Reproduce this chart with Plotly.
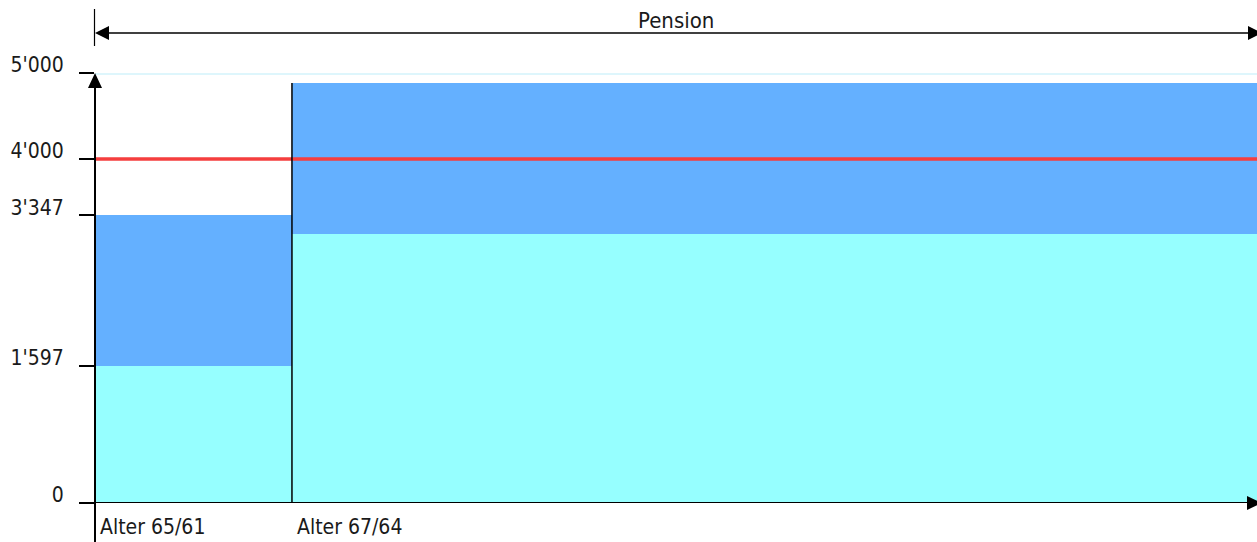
import plotly.graph_objects as go

# ---- data ----
segments = ["Alter 65/61", "Alter 67/64"]
seg_start = [0, 16.95]          # timeline position (% of pension period)
seg_end = [16.95, 100]
base_values = [1597, 3128]      # cyan (lower) part
top_values = [1750, 1756]       # blue (upper) part
threshold = 4000
y_max = 5000
tick_vals = [0, 1597, 3347, 4000, 5000]
tick_text = ["0", "1'597", "3'347", "4'000", "5'000"]
period_label = "Pension"

CYAN = "rgb(150,255,255)"
BLUE = "rgb(100,176,255)"
FONT = "DejaVu Sans Condensed, DejaVu Sans, sans-serif"

W, H = 1257, 542
ML, MR, MT, MB = 95, 0, 73, 39
PW, PH = W - ML - MR, H - MT - MB


def px(xp):
    return (xp - ML) / PW


def py(yp):
    return (H - MB - yp) / PH


mids = [(a + b) / 2 for a, b in zip(seg_start, seg_end)]
widths = [b - a for a, b in zip(seg_start, seg_end)]

fig = go.Figure()
fig.add_trace(go.Bar(x=mids, y=base_values, width=widths, marker=dict(color=CYAN, line=dict(width=0)),
                     hoverinfo="skip", showlegend=False))
fig.add_trace(go.Bar(x=mids, y=top_values, width=widths, marker=dict(color=BLUE, line=dict(width=0)),
                     hoverinfo="skip", showlegend=False))

shapes = []
# light line at top value
shapes.append(dict(type="line", xref="paper", yref="y", x0=0, x1=1, y0=y_max, y1=y_max,
                   line=dict(color="rgb(222,246,252)", width=4), layer="below"))
# threshold red line
shapes.append(dict(type="line", xref="paper", yref="y", x0=0, x1=1, y0=threshold, y1=threshold,
                   line=dict(color="rgb(245,62,62)", width=3.5)))
# separator vertical line at 2nd segment start (from bar top downward)
shapes.append(dict(type="line", xref="x", yref="y", x0=seg_start[1], x1=seg_start[1],
                   y0=base_values[1] + top_values[1], y1=-460,
                   line=dict(color="black", width=1.5)))
# y axis line
shapes.append(dict(type="line", xref="paper", yref="paper", x0=0, x1=0, y0=py(H + 5), y1=py(80),
                   line=dict(color="black", width=2)))
# x axis line
shapes.append(dict(type="line", xref="paper", yref="y", x0=px(80), x1=px(1250), y0=0, y1=0,
                   line=dict(color="black", width=2)))
# y axis arrowhead (up)
shapes.append(dict(type="path", xref="paper", yref="paper",
                   path=f"M {px(95)} {py(73)} L {px(102)} {py(88)} L {px(88)} {py(88)} Z",
                   fillcolor="black", line=dict(width=0)))
# x axis arrowhead (right)
shapes.append(dict(type="path", xref="paper", yref="paper",
                   path=f"M {px(1262)} {py(503)} L {px(1247)} {py(496)} L {px(1247)} {py(510)} Z",
                   fillcolor="black", line=dict(width=0)))
# Pension arrow line
shapes.append(dict(type="line", xref="paper", yref="paper", x0=px(100), x1=px(1252), y0=py(33), y1=py(33),
                   line=dict(color="black", width=1.5)))
shapes.append(dict(type="line", xref="paper", yref="paper", x0=px(94.5), x1=px(94.5), y0=py(9), y1=py(46),
                   line=dict(color="black", width=1.2)))
shapes.append(dict(type="path", xref="paper", yref="paper",
                   path=f"M {px(95)} {py(33)} L {px(109)} {py(26)} L {px(109)} {py(40)} Z",
                   fillcolor="black", line=dict(width=0)))
shapes.append(dict(type="path", xref="paper", yref="paper",
                   path=f"M {px(1262)} {py(33)} L {px(1248)} {py(26)} L {px(1248)} {py(40)} Z",
                   fillcolor="black", line=dict(width=0)))

annotations = []
for name, start in zip(segments, seg_start):
    annotations.append(dict(text=name, xref="x", yref="paper", x=start, y=0, xanchor="left", yanchor="top",
                            xshift=3, yshift=-10, showarrow=False,
                            font=dict(family=FONT, size=21, color="#1a1a1a")))
annotations.append(dict(text=period_label, xref="paper", yref="paper", x=0.5, y=py(21), xanchor="center",
                        yanchor="middle", showarrow=False, font=dict(family=FONT, size=22, color="#1a1a1a")))

fig.update_layout(
    width=W, height=H, margin=dict(l=ML, r=MR, t=MT, b=MB, pad=0),
    paper_bgcolor="white", plot_bgcolor="white",
    barmode="stack", bargap=0,
    xaxis=dict(range=[0, 100], visible=False, fixedrange=True),
    yaxis=dict(range=[0, y_max], tickvals=tick_vals, ticktext=tick_text, ticks="outside", ticklen=15,
               tickwidth=2, tickcolor="black", showgrid=False, zeroline=False, showline=False,
               ticklabelshift=-8, ticklabelstandoff=11,
               tickfont=dict(family=FONT, size=21, color="#1a1a1a"), fixedrange=True),
    shapes=shapes, annotations=annotations, showlegend=False,
)

fig.write_html("out.html", config={"displayModeBar": False},
               post_script="document.body.style.margin='0';document.body.style.overflow='hidden';")
